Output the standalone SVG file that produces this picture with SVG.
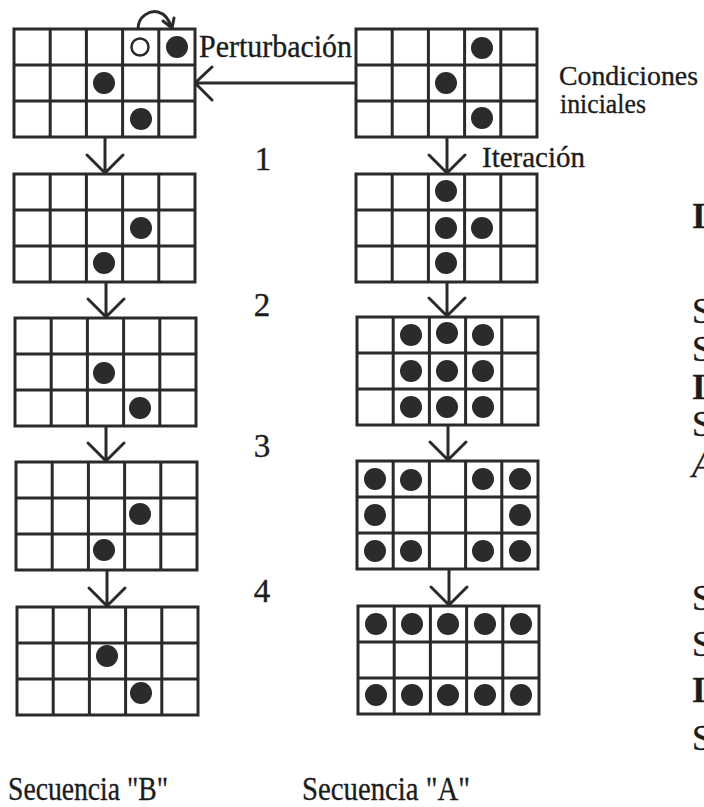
<svg xmlns="http://www.w3.org/2000/svg" xmlns:xlink="http://www.w3.org/1999/xlink" width="704" height="807" viewBox="0 0 704 807">
<style>
.g{fill:#fff;stroke:#2a2a2a;stroke-width:3}
.gl{stroke:#2a2a2a;stroke-width:3;fill:none}
.dot{fill:#2b2b2b}
.open{fill:#fff;stroke:#2a2a2a;stroke-width:2.5}
.ar{stroke:#2a2a2a;stroke-width:3;fill:none;stroke-linecap:round;stroke-linejoin:round}
text{fill:#1c1c1c;stroke:#1c1c1c;stroke-width:0.35}
</style>
<defs>
<g id="grid">
<rect class="g" x="0" y="0" width="181" height="108"/>
<path class="gl" d="M36.2,0V108M72.4,0V108M108.6,0V108M144.8,0V108M0,36H181M0,72H181"/>
</g>
</defs>
<rect width="704" height="807" fill="#fff"/>

<g id="connectors">
<path class="ar" d="M356,83H195M212,67L195,83L212,100"/>
<path class="ar" d="M138,29C138,16 150,10 158,12C165,14 169,19 171,27M163,21L172,28L174,18"/>
<path class="ar" d="M105,138V173M87,155L105,173L123,155"/>
<path class="ar" d="M106,282V317M88,299L106,317L124,299"/>
<path class="ar" d="M106,426V461M88,443L106,461L124,443"/>
<path class="ar" d="M107,570V606M89,588L107,606L125,588"/>
<path class="ar" d="M447,138V173M429,155L447,173L465,155"/>
<path class="ar" d="M447,283V316M429,298L447,316L465,298"/>
<path class="ar" d="M448,426V460M430,442L448,460L466,442"/>
<path class="ar" d="M449,569V605M431,587L449,605L467,587"/>
</g>

<g id="B0" transform="translate(14,29)">
<use xlink:href="#grid"/>
<circle class="open" cx="126" cy="18" r="8.5"/>
<circle class="dot" cx="163" cy="18" r="11"/>
<circle class="dot" cx="90" cy="54" r="11"/>
<circle class="dot" cx="127" cy="90" r="11"/>
</g>
<g id="B1" transform="translate(14,174)">
<use xlink:href="#grid"/>
<circle class="dot" cx="127" cy="54" r="11"/>
<circle class="dot" cx="90" cy="89" r="11"/>
</g>
<g id="B2" transform="translate(15,318)">
<use xlink:href="#grid"/>
<circle class="dot" cx="89" cy="55" r="11"/>
<circle class="dot" cx="125" cy="90" r="11"/>
</g>
<g id="B3" transform="translate(16,462)">
<use xlink:href="#grid"/>
<circle class="dot" cx="124" cy="52" r="11"/>
<circle class="dot" cx="88" cy="88" r="11"/>
</g>
<g id="B4" transform="translate(17,607)">
<use xlink:href="#grid"/>
<circle class="dot" cx="90" cy="49" r="11"/>
<circle class="dot" cx="124" cy="86" r="11"/>
</g>

<g id="A0" transform="translate(356,29)">
<use xlink:href="#grid"/>
<circle class="dot" cx="126" cy="19" r="11"/>
<circle class="dot" cx="90" cy="54" r="11"/>
<circle class="dot" cx="126" cy="89" r="11"/>
</g>
<g id="A1" transform="translate(356,174)">
<use xlink:href="#grid"/>
<circle class="dot" cx="90" cy="17" r="11"/>
<circle class="dot" cx="90" cy="54" r="11"/>
<circle class="dot" cx="126" cy="54" r="11"/>
<circle class="dot" cx="90" cy="89" r="11"/>
</g>
<g id="A2" transform="translate(357,317)">
<use xlink:href="#grid"/>
<circle class="dot" cx="54" cy="18" r="11"/>
<circle class="dot" cx="90" cy="16" r="11"/>
<circle class="dot" cx="126" cy="18" r="11"/>
<circle class="dot" cx="54" cy="54" r="11"/>
<circle class="dot" cx="90" cy="54" r="11"/>
<circle class="dot" cx="126" cy="54" r="11"/>
<circle class="dot" cx="54" cy="90" r="11"/>
<circle class="dot" cx="90" cy="90" r="11"/>
<circle class="dot" cx="126" cy="90" r="11"/>
</g>
<g id="A3" transform="translate(357,461)">
<use xlink:href="#grid"/>
<circle class="dot" cx="18" cy="18" r="11"/>
<circle class="dot" cx="54" cy="19" r="11"/>
<circle class="dot" cx="126" cy="18" r="11"/>
<circle class="dot" cx="163" cy="18" r="11"/>
<circle class="dot" cx="18" cy="54" r="11"/>
<circle class="dot" cx="163" cy="54" r="11"/>
<circle class="dot" cx="18" cy="90" r="11"/>
<circle class="dot" cx="54" cy="90" r="11"/>
<circle class="dot" cx="126" cy="90" r="11"/>
<circle class="dot" cx="163" cy="90" r="11"/>
</g>
<g id="A4" transform="translate(358,606)">
<use xlink:href="#grid"/>
<circle class="dot" cx="18" cy="18" r="11"/>
<circle class="dot" cx="54" cy="18" r="11"/>
<circle class="dot" cx="90" cy="18" r="11"/>
<circle class="dot" cx="127" cy="18" r="11"/>
<circle class="dot" cx="163" cy="18" r="11"/>
<circle class="dot" cx="18" cy="89" r="11"/>
<circle class="dot" cx="54" cy="89" r="11"/>
<circle class="dot" cx="90" cy="89" r="11"/>
<circle class="dot" cx="127" cy="89" r="11"/>
<circle class="dot" cx="163" cy="89" r="11"/>
</g>

<g id="labels" font-family="Liberation Serif, Times New Roman, DejaVu Serif, serif">
<text x="199" y="57" font-size="31" textLength="153" lengthAdjust="spacingAndGlyphs">Perturbación</text>
<text x="559" y="85" font-size="27" textLength="139" lengthAdjust="spacingAndGlyphs">Condiciones</text>
<text x="560" y="113" font-size="27" textLength="86" lengthAdjust="spacingAndGlyphs">iniciales</text>
<text x="482" y="167" font-size="30" textLength="103" lengthAdjust="spacingAndGlyphs">Iteración</text>
<text x="263" y="170" font-size="33" text-anchor="middle">1</text>
<text x="262" y="316" font-size="33" text-anchor="middle">2</text>
<text x="262" y="457" font-size="33" text-anchor="middle">3</text>
<text x="262" y="602" font-size="33" text-anchor="middle">4</text>
<text x="8" y="800" font-size="34" textLength="160" lengthAdjust="spacingAndGlyphs">Secuencia "B"</text>
<text x="302" y="800" font-size="34" textLength="168" lengthAdjust="spacingAndGlyphs">Secuencia "A"</text>
</g>

<g id="edge-text" font-family="Liberation Serif, Times New Roman, DejaVu Serif, serif" font-size="35">
<text x="692" y="228" font-weight="bold">I</text>
<text x="692" y="323">S</text>
<text x="692" y="361">S</text>
<text x="692" y="399" font-weight="bold">I</text>
<text x="692" y="436">S</text>
<text x="692" y="477" font-style="italic">A</text>
<text x="692" y="610">S</text>
<text x="692" y="656">S</text>
<text x="692" y="702" font-weight="bold">I</text>
<text x="692" y="750">S</text>
</g>
</svg>
